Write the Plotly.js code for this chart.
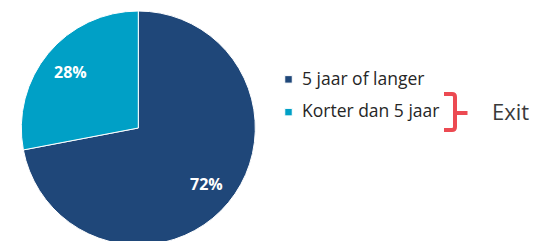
<!DOCTYPE html>
<html>
<head>
<meta charset="utf-8">
<script src="https://cdn.plot.ly/plotly-3.0.1.min.js"></script>
<style>
html,body{margin:0;padding:0;overflow:hidden;background:#fff;width:533px;height:241px;}
#chart{width:533px;height:260px;}
</style>
</head>
<body>
<div id="chart"></div>
<script>
// Data
const categories = ['5 jaar of langer', 'Korter dan 5 jaar'];
const shares = [72, 28];
const sliceColors = ['#1F4779', '#00A0C6'];
const braceLabel = 'Exit';

const W = 533, H = 260;
const px = x => x / W;
const py = y => 1 - y / H;

// pie geometry (pixels)
const CX = 138.3, CY = 128, R = 117;
const LABEL_R = 0.755;

function toPath(cmds) {
  return cmds.map(p => {
    const nums = p.slice(1), out = [];
    for (let i = 0; i < nums.length; i += 2) out.push(px(nums[i]) + ',' + py(nums[i + 1]));
    return p[0] + ' ' + out.join(' ');
  }).join(' ');
}
const braceCmds = [
  ['M', 444, 94], ['L', 452, 94], ['Q', 455, 94, 455, 97], ['L', 455, 127],
  ['Q', 455, 130, 452, 130], ['L', 444, 130],
  ['M', 455, 113], ['L', 467.5, 113]
];

// percentage labels positioned along each slice's mid-angle (clockwise from top)
const total = shares.reduce((a, b) => a + b, 0);
let cum = 0;
const labelAnns = shares.map(v => {
  const mid = (cum + v / 2) / total * 2 * Math.PI;
  cum += v;
  const x = CX + Math.sin(mid) * R * LABEL_R;
  const y = CY - Math.cos(mid) * R * LABEL_R;
  return {
    text: '<b>' + Math.round(v / total * 100) + '%</b>', xref: 'paper', yref: 'paper',
    x: px(x), y: py(y), xanchor: 'center', yanchor: 'middle', showarrow: false,
    font: {family: 'Open Sans, sans-serif', size: 16, color: '#ffffff'}
  };
});

const trace = {
  type: 'pie',
  labels: categories,
  values: shares,
  sort: false,
  direction: 'clockwise',
  rotation: 0,
  marker: {colors: sliceColors, line: {color: '#ffffff', width: 1}},
  textinfo: 'none',
  hoverinfo: 'none',
  domain: {x: [px(CX - R), px(CX + R)], y: [py(CY + R), py(CY - R)]}
};

const layout = {
  width: W, height: H,
  margin: {l: 0, r: 0, t: 0, b: 0},
  paper_bgcolor: '#ffffff',
  showlegend: true,
  legend: {
    x: px(262), y: py(60), xanchor: 'left', yanchor: 'top',
    font: {family: 'Open Sans, sans-serif', size: 17.5, color: '#262626'},
    bgcolor: 'rgba(0,0,0,0)', borderwidth: 0
  },
  shapes: [{
    type: 'path', xref: 'paper', yref: 'paper', path: toPath(braceCmds),
    line: {color: '#EC4A52', width: 4}, fillcolor: 'rgba(0,0,0,0)'
  }],
  annotations: labelAnns.concat([{
    text: braceLabel, xref: 'paper', yref: 'paper', x: px(490), y: py(111),
    xanchor: 'left', yanchor: 'middle', showarrow: false,
    font: {family: 'Open Sans, sans-serif', size: 22, color: '#3A3A3A'}
  }])
};

Plotly.newPlot('chart', [trace], layout, {staticPlot: true, displayModeBar: false}).then(gd => {
  const sb = gd.querySelector('.legend .scrollbox');
  if (sb) sb.removeAttribute('clip-path');
  // wider row spacing and small square swatches like the original
  gd.querySelectorAll('.legend .traces').forEach((g, i) => {
    const m = /translate\(\s*([-\d.eE]+)[ ,]+([-\d.eE]+)\s*\)/.exec(g.getAttribute('transform') || '');
    if (m) g.setAttribute('transform', 'translate(' + m[1] + ',' + (parseFloat(m[2]) + i * 7) + ')');
  });
  gd.querySelectorAll('.legend path.legendpie').forEach(p => {
    p.setAttribute('d', 'M3.75,3.75H-3.75V-3.75H3.75Z');
    p.setAttribute('transform', 'translate(26.5,1.5)');
  });
});
</script>
</body>
</html>
